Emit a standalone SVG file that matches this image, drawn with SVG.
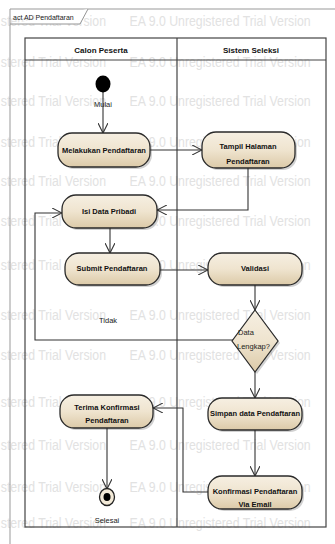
<svg xmlns="http://www.w3.org/2000/svg" width="335" height="544" viewBox="0 0 335 544">
<defs>
<linearGradient id="nodeFill" x1="0" y1="0" x2="0" y2="1">
<stop offset="0" stop-color="#f6efe2"/>
<stop offset="0.5" stop-color="#efe4cf"/>
<stop offset="1" stop-color="#dccaa8"/>
</linearGradient>
<marker id="open" viewBox="0 0 10 10" refX="10" refY="5" markerWidth="10" markerHeight="10" markerUnits="userSpaceOnUse" orient="auto">
<path d="M0,0 L10,5 L0,10" fill="none" stroke="#333" stroke-width="1.1"/>
</marker>
</defs>
<style>
.wm{font-family:"Liberation Sans",Arial,sans-serif;font-size:15px;fill:#e2e2e2}
.lane{fill:none;stroke:#444;stroke-width:1.2}
.hdr{font-family:"Liberation Sans Narrow","Liberation Sans",Arial,sans-serif;font-size:8px;font-weight:bold;fill:#111;text-anchor:middle}
.node rect.b{fill:url(#nodeFill);stroke:#2a2a2a;stroke-width:1.3}
.shadow{fill:#000;opacity:0.18}
.lbl{font-family:"Liberation Sans Narrow","Liberation Sans",Arial,sans-serif;font-size:7.5px;font-weight:bold;fill:#111;text-anchor:middle}
.small{font-family:"Liberation Sans Narrow","Liberation Sans",Arial,sans-serif;font-size:7.5px;fill:#222}
.flow{fill:none;stroke:#333;stroke-width:1.1;marker-end:url(#open)}
</style>
<rect width="335" height="544" fill="#fff"/>
<g id="watermark" transform="scale(0.82,1)">
<text class="wm" x="1" y="26">stered Trial Version</text><text class="wm" x="158" y="26">EA 9.0 Unregistered Trial Version</text>
<text class="wm" x="1" y="67">stered Trial Version</text><text class="wm" x="158" y="67">EA 9.0 Unregistered Trial Version</text>
<text class="wm" x="1" y="106">stered Trial Version</text><text class="wm" x="158" y="106">EA 9.0 Unregistered Trial Version</text>
<text class="wm" x="1" y="147">stered Trial Version</text><text class="wm" x="158" y="147">EA 9.0 Unregistered Trial Version</text>
<text class="wm" x="1" y="186">stered Trial Version</text><text class="wm" x="158" y="186">EA 9.0 Unregistered Trial Version</text>
<text class="wm" x="1" y="226">stered Trial Version</text><text class="wm" x="158" y="226">EA 9.0 Unregistered Trial Version</text>
<text class="wm" x="1" y="270">stered Trial Version</text><text class="wm" x="158" y="270">EA 9.0 Unregistered Trial Version</text>
<text class="wm" x="1" y="320">stered Trial Version</text><text class="wm" x="158" y="320">EA 9.0 Unregistered Trial Version</text>
<text class="wm" x="1" y="360">stered Trial Version</text><text class="wm" x="158" y="360">EA 9.0 Unregistered Trial Version</text>
<text class="wm" x="1" y="407">stered Trial Version</text><text class="wm" x="158" y="407">EA 9.0 Unregistered Trial Version</text>
<text class="wm" x="1" y="450">stered Trial Version</text><text class="wm" x="158" y="450">EA 9.0 Unregistered Trial Version</text>
<text class="wm" x="1" y="492">stered Trial Version</text><text class="wm" x="158" y="492">EA 9.0 Unregistered Trial Version</text>
<text class="wm" x="1" y="528">stered Trial Version</text><text class="wm" x="158" y="528">EA 9.0 Unregistered Trial Version</text>
</g>
<g id="frame">
<path d="M10,544 L10,9 L335,9" fill="none" stroke="#999" stroke-width="1"/>
<path d="M10,24 L80,24 L88,9" fill="#fff" stroke="#888" stroke-width="0.9"/>
<text x="13" y="19.5" font-family="'Liberation Sans Narrow','Liberation Sans',Arial,sans-serif" font-size="7px" fill="#222">act AD Pendaftaran</text>
</g>
<g id="lanes">
<rect class="lane" x="25" y="38" width="301" height="489"/>
<line class="lane" x1="25" y1="60" x2="326" y2="60"/>
<line class="lane" x1="177" y1="38" x2="177" y2="527"/>
<text class="hdr" x="101" y="52.5">Calon Peserta</text>
<text class="hdr" x="251" y="52.5">Sistem Seleksi</text>
</g>
<g id="connectors">
<path class="flow" d="M103,92 L103,133"/>
<path class="flow" d="M150,150 L202,150"/>
<path class="flow" d="M248,168 L248,210 L157,210"/>
<path class="flow" d="M110,228 L110,253"/>
<path class="flow" d="M160,270 L208,270"/>
<path class="flow" d="M255,285 L255,310"/>
<path class="flow" d="M233,340 L35,340 L35,213 L62,213"/>
<text class="small" x="99" y="323">Tidak</text>
<path class="flow" d="M255,372 L255,398"/>
<path class="flow" d="M255,430 L255,476"/>
<path class="flow" d="M208,492 L183,492 L183,408 L153,408"/>
<path class="flow" d="M107,428 L107,489"/>
</g>
<g id="start">
<ellipse cx="103" cy="84" rx="7.5" ry="8.5" fill="#000"/>
<text class="small" x="103" y="107" text-anchor="middle">Mulai</text>
</g>
<g id="melakukan" class="node">
<rect class="shadow" x="60" y="135" width="92" height="34" rx="14"/>
<rect class="b" x="58" y="133" width="92" height="34" rx="14"/>
<text class="lbl" x="104" y="152.5">Melakukan Pendaftaran</text>
</g>
<g id="tampil" class="node">
<rect class="shadow" x="204" y="134" width="93" height="36" rx="14"/>
<rect class="b" x="202" y="132" width="93" height="36" rx="14"/>
<text class="lbl" x="248" y="149">Tampil Halaman</text>
<text class="lbl" x="248" y="164">Pendaftaran</text>
</g>
<g id="isi" class="node">
<rect class="shadow" x="64" y="197" width="95" height="33" rx="14"/>
<rect class="b" x="62" y="195" width="95" height="33" rx="14"/>
<text class="lbl" x="109" y="214">Isi Data Pribadi</text>
</g>
<g id="submit" class="node">
<rect class="shadow" x="67" y="255" width="95" height="32" rx="14"/>
<rect class="b" x="65" y="253" width="95" height="32" rx="14"/>
<text class="lbl" x="112" y="271">Submit Pendaftaran</text>
</g>
<g id="validasi" class="node">
<rect class="shadow" x="210" y="255" width="94" height="32" rx="14"/>
<rect class="b" x="208" y="253" width="94" height="32" rx="14"/>
<text class="lbl" x="255" y="271">Validasi</text>
</g>
<g id="decision">
<path d="M257,312 L280,343 L257,374 L234,343 Z" class="shadow"/>
<path d="M255,310 L278,341 L255,372 L232,341 Z" fill="url(#nodeFill)" stroke="#2a2a2a" stroke-width="1.2"/>
<text class="small" x="238" y="335">Data</text>
<text class="small" x="237" y="349">Lengkap?</text>
</g>
<g id="simpan" class="node">
<rect class="shadow" x="210" y="400" width="94" height="32" rx="14"/>
<rect class="b" x="208" y="398" width="94" height="32" rx="14"/>
<text class="lbl" x="255" y="416">Simpan data Pendaftaran</text>
</g>
<g id="konfirmasi" class="node">
<rect class="shadow" x="210" y="478" width="94" height="33" rx="14"/>
<rect class="b" x="208" y="476" width="94" height="33" rx="14"/>
<text class="lbl" x="255" y="494">Konfirmasi Pendaftaran</text>
<text class="lbl" x="255" y="507">Via Email</text>
</g>
<g id="terima" class="node">
<rect class="shadow" x="62" y="397" width="93" height="33" rx="14"/>
<rect class="b" x="60" y="395" width="93" height="33" rx="14"/>
<text class="lbl" x="107" y="410">Terima Konfirmasi</text>
<text class="lbl" x="107" y="423">Pendaftaran</text>
</g>
<g id="end">
<ellipse cx="107" cy="497" rx="7.5" ry="8.5" fill="#f3ead8" stroke="#222" stroke-width="1.3"/>
<ellipse cx="107" cy="497" rx="3.5" ry="4" fill="#000"/>
<text class="small" x="107" y="523" text-anchor="middle">Selesai</text>
</g>
</svg>
